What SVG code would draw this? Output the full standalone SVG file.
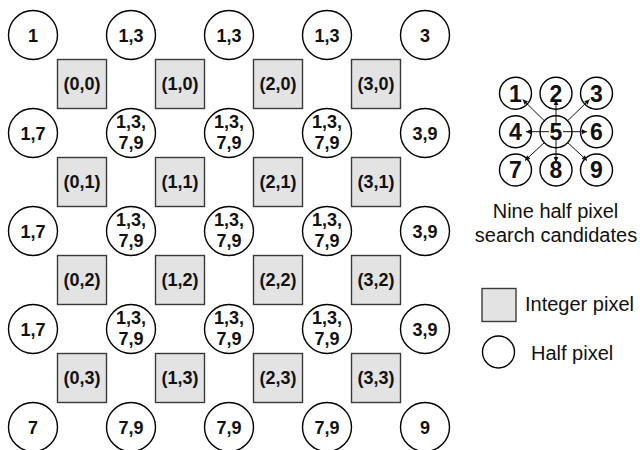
<svg xmlns="http://www.w3.org/2000/svg" width="640" height="450" viewBox="0 0 640 450">
<style>
.hp{fill:#fff;stroke:#000;stroke-width:1.4}
.ip{fill:#e3e3e3;stroke:#3a3a3a;stroke-width:1.4}
.t{font-family:"Liberation Sans",Arial,sans-serif;font-weight:bold;font-size:18px;fill:#111;text-anchor:middle}
.s{font-family:"Liberation Sans",Arial,sans-serif;font-weight:bold;font-size:23px;fill:#111;text-anchor:middle}
.n{font-family:"Liberation Sans",Arial,sans-serif;font-size:20px;fill:#111}
.ar{stroke:#111;stroke-width:1;fill:none;marker-end:url(#ah)}
</style>
<defs>
<marker id="ah" viewBox="0 0 10 10" refX="10" refY="5" markerWidth="6" markerHeight="5" markerUnits="userSpaceOnUse" orient="auto"><path d="M0,0 L10,5 L0,10 z" fill="#111"/></marker>
</defs>
<rect width="640" height="450" fill="#fff"/>
<!-- grid: integer pixels -->
<g id="sq00"><rect class="ip" x="57.5" y="59.5" width="49" height="49"/><text class="t" x="82" y="90">(0,0)</text></g>
<g id="sq10"><rect class="ip" x="155.5" y="59.5" width="49" height="49"/><text class="t" x="180" y="90">(1,0)</text></g>
<g id="sq20"><rect class="ip" x="253.5" y="59.5" width="49" height="49"/><text class="t" x="278" y="90">(2,0)</text></g>
<g id="sq30"><rect class="ip" x="351.5" y="59.5" width="49" height="49"/><text class="t" x="376" y="90">(3,0)</text></g>
<g id="sq01"><rect class="ip" x="57.5" y="157.5" width="49" height="49"/><text class="t" x="82" y="188">(0,1)</text></g>
<g id="sq11"><rect class="ip" x="155.5" y="157.5" width="49" height="49"/><text class="t" x="180" y="188">(1,1)</text></g>
<g id="sq21"><rect class="ip" x="253.5" y="157.5" width="49" height="49"/><text class="t" x="278" y="188">(2,1)</text></g>
<g id="sq31"><rect class="ip" x="351.5" y="157.5" width="49" height="49"/><text class="t" x="376" y="188">(3,1)</text></g>
<g id="sq02"><rect class="ip" x="57.5" y="255.5" width="49" height="49"/><text class="t" x="82" y="286">(0,2)</text></g>
<g id="sq12"><rect class="ip" x="155.5" y="255.5" width="49" height="49"/><text class="t" x="180" y="286">(1,2)</text></g>
<g id="sq22"><rect class="ip" x="253.5" y="255.5" width="49" height="49"/><text class="t" x="278" y="286">(2,2)</text></g>
<g id="sq32"><rect class="ip" x="351.5" y="255.5" width="49" height="49"/><text class="t" x="376" y="286">(3,2)</text></g>
<g id="sq03"><rect class="ip" x="57.5" y="353.5" width="49" height="49"/><text class="t" x="82" y="384">(0,3)</text></g>
<g id="sq13"><rect class="ip" x="155.5" y="353.5" width="49" height="49"/><text class="t" x="180" y="384">(1,3)</text></g>
<g id="sq23"><rect class="ip" x="253.5" y="353.5" width="49" height="49"/><text class="t" x="278" y="384">(2,3)</text></g>
<g id="sq33"><rect class="ip" x="351.5" y="353.5" width="49" height="49"/><text class="t" x="376" y="384">(3,3)</text></g>
<!-- half pixels row 0 -->
<g id="c00"><circle class="hp" cx="33" cy="35" r="24.5"/><text class="t" x="33" y="41.5">1</text></g>
<g id="c10"><circle class="hp" cx="131" cy="35" r="24.5"/><text class="t" x="131" y="41.5">1,3</text></g>
<g id="c20"><circle class="hp" cx="229" cy="35" r="24.5"/><text class="t" x="229" y="41.5">1,3</text></g>
<g id="c30"><circle class="hp" cx="327" cy="35" r="24.5"/><text class="t" x="327" y="41.5">1,3</text></g>
<g id="c40"><circle class="hp" cx="425" cy="35" r="24.5"/><text class="t" x="425" y="41.5">3</text></g>
<!-- row 1 -->
<g id="c01"><circle class="hp" cx="33" cy="133" r="24.5"/><text class="t" x="33" y="139.5">1,7</text></g>
<g id="c11"><circle class="hp" cx="131" cy="133" r="24.5"/><text class="t" x="131" y="128">1,3,</text><text class="t" x="131" y="149">7,9</text></g>
<g id="c21"><circle class="hp" cx="229" cy="133" r="24.5"/><text class="t" x="229" y="128">1,3,</text><text class="t" x="229" y="149">7,9</text></g>
<g id="c31"><circle class="hp" cx="327" cy="133" r="24.5"/><text class="t" x="327" y="128">1,3,</text><text class="t" x="327" y="149">7,9</text></g>
<g id="c41"><circle class="hp" cx="425" cy="133" r="24.5"/><text class="t" x="425" y="139.5">3,9</text></g>
<!-- row 2 -->
<g id="c02"><circle class="hp" cx="33" cy="231" r="24.5"/><text class="t" x="33" y="237.5">1,7</text></g>
<g id="c12"><circle class="hp" cx="131" cy="231" r="24.5"/><text class="t" x="131" y="226">1,3,</text><text class="t" x="131" y="247">7,9</text></g>
<g id="c22"><circle class="hp" cx="229" cy="231" r="24.5"/><text class="t" x="229" y="226">1,3,</text><text class="t" x="229" y="247">7,9</text></g>
<g id="c32"><circle class="hp" cx="327" cy="231" r="24.5"/><text class="t" x="327" y="226">1,3,</text><text class="t" x="327" y="247">7,9</text></g>
<g id="c42"><circle class="hp" cx="425" cy="231" r="24.5"/><text class="t" x="425" y="237.5">3,9</text></g>
<!-- row 3 -->
<g id="c03"><circle class="hp" cx="33" cy="329" r="24.5"/><text class="t" x="33" y="335.5">1,7</text></g>
<g id="c13"><circle class="hp" cx="131" cy="329" r="24.5"/><text class="t" x="131" y="324">1,3,</text><text class="t" x="131" y="345">7,9</text></g>
<g id="c23"><circle class="hp" cx="229" cy="329" r="24.5"/><text class="t" x="229" y="324">1,3,</text><text class="t" x="229" y="345">7,9</text></g>
<g id="c33"><circle class="hp" cx="327" cy="329" r="24.5"/><text class="t" x="327" y="324">1,3,</text><text class="t" x="327" y="345">7,9</text></g>
<g id="c43"><circle class="hp" cx="425" cy="329" r="24.5"/><text class="t" x="425" y="335.5">3,9</text></g>
<!-- row 4 -->
<g id="c04"><circle class="hp" cx="33" cy="427" r="24.5"/><text class="t" x="33" y="433.5">7</text></g>
<g id="c14"><circle class="hp" cx="131" cy="427" r="24.5"/><text class="t" x="131" y="433.5">7,9</text></g>
<g id="c24"><circle class="hp" cx="229" cy="427" r="24.5"/><text class="t" x="229" y="433.5">7,9</text></g>
<g id="c34"><circle class="hp" cx="327" cy="427" r="24.5"/><text class="t" x="327" y="433.5">7,9</text></g>
<g id="c44"><circle class="hp" cx="425" cy="427" r="24.5"/><text class="t" x="425" y="433.5">9</text></g>
<!-- candidate diagram -->
<g id="k1"><circle class="hp" cx="515.5" cy="93.3" r="16"/><text class="s" x="515.5" y="101.5">1</text></g>
<g id="k2"><circle class="hp" cx="556" cy="93.3" r="16"/><text class="s" x="556" y="101.5">2</text></g>
<g id="k3"><circle class="hp" cx="596.5" cy="93.3" r="16"/><text class="s" x="596.5" y="101.5">3</text></g>
<g id="k4"><circle class="hp" cx="515.5" cy="131.7" r="16"/><text class="s" x="515.5" y="139.9">4</text></g>
<g id="k5"><circle class="hp" cx="556" cy="131.7" r="16"/></g>
<g id="k6"><circle class="hp" cx="596.5" cy="131.7" r="16"/><text class="s" x="596.5" y="139.9">6</text></g>
<g id="k7"><circle class="hp" cx="515.5" cy="170" r="16"/><text class="s" x="515.5" y="178.2">7</text></g>
<g id="k8"><circle class="hp" cx="556" cy="170" r="16"/><text class="s" x="556" y="178.2">8</text></g>
<g id="k9"><circle class="hp" cx="596.5" cy="170" r="16"/><text class="s" x="596.5" y="178.2">9</text></g>
<g id="connectors">
<line class="ar" x1="556" y1="125" x2="556" y2="100"/>
<line class="ar" x1="556" y1="138" x2="556" y2="162"/>
<line class="ar" x1="549" y1="131.7" x2="526" y2="131.7"/>
<line class="ar" x1="563" y1="131.7" x2="587" y2="131.7"/>
<line class="ar" x1="545" y1="121.4" x2="522.7" y2="99.5"/>
<line class="ar" x1="567" y1="121.4" x2="589.5" y2="99.5"/>
<line class="ar" x1="545" y1="142" x2="525" y2="160.5"/>
<line class="ar" x1="567" y1="142" x2="587" y2="160.5"/>
</g>
<text class="s" x="556" y="139.9">5</text>
<text class="n" x="555.5" y="218.3" text-anchor="middle">Nine half pixel</text>
<text class="n" x="556" y="241.7" text-anchor="middle">search candidates</text>
<!-- legend -->
<g id="legend-integer"><rect class="ip" x="482" y="288.5" width="34" height="33"/><text class="n" x="525" y="311">Integer pixel</text></g>
<g id="legend-half"><circle class="hp" cx="498.5" cy="352" r="16"/><text class="n" x="531" y="360">Half pixel</text></g>
</svg>
